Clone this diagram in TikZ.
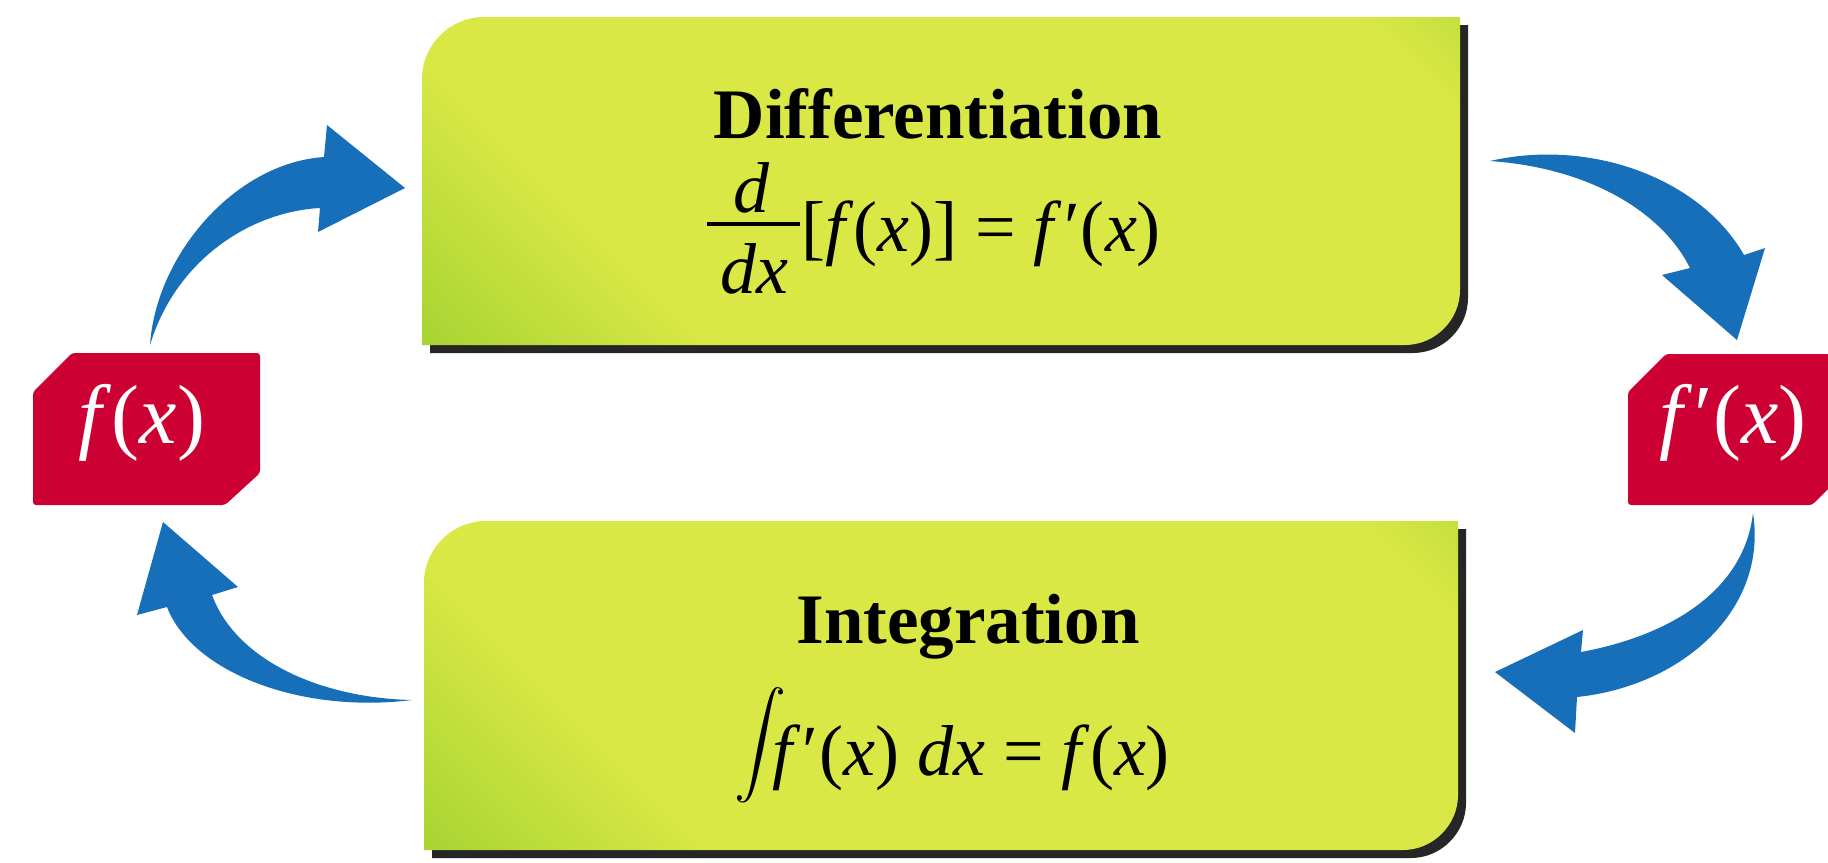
\documentclass[tikz,border=0pt]{standalone}
\usepackage{graphicx}
\usepackage{fontspec}
\setmainfont{Liberation Serif}
\definecolor{gdark}{RGB}{118,190,38}
\definecolor{gmid}{RGB}{172,214,52}
\definecolor{ylw}{RGB}{218,232,70}
\definecolor{tagred}{RGB}{204,0,51}
\definecolor{arrowblue}{RGB}{22,111,184}
\pgfdeclarehorizontalshading{boxshade}{100bp}{color(0bp)=(gdark); color(16bp)=(gmid); color(30bp)=(ylw); color(80bp)=(ylw); color(92bp)=(gmid); color(100bp)=(gdark)}
\newcommand\prm{\kern2pt ′\kern1pt}
\tikzset{
  boxshadow/.style={fill=black!85},
  boxfill/.style={shading=boxshade, shading angle=45},
  tagbox/.style={fill=tagred, rounded corners=3},
  tagtext/.style={text=white, anchor=base, font=\fontsize{84}{90}\selectfont},
  titletext/.style={anchor=base, font=\bfseries\fontsize{71}{80}\selectfont},
  eqtext/.style={anchor=base, font=\fontsize{72}{80}\selectfont, inner sep=0pt},
  fracbar/.style={line width=4pt},
  bluearrow/.style={fill=arrowblue}
}
\begin{document}
\begin{tikzpicture}[x=1pt,y=-1pt]
\useasboundingbox (0,0) rectangle (1828,862);
\fill[white] (0,0) rectangle (1828,862);

% top box
\fill[boxshadow] (430,353) -- (430,87) .. controls (430,53) and (458,25) .. (492,25) -- (1468,25) -- (1468,298) .. controls (1468,328) and (1443,353) .. (1413,353) -- cycle;
\shade[boxfill] (422,345) -- (422,79) .. controls (422,45) and (450,17) .. (484,17) -- (1460,17) -- (1460,290) .. controls (1460,320) and (1435,345) .. (1405,345) -- cycle;

% bottom box
\fill[boxshadow] (432,858) -- (432,591) .. controls (432,557) and (460,529) .. (494,529) -- (1466,529) -- (1466,803) .. controls (1466,833) and (1441,858) .. (1411,858) -- cycle;
\shade[boxfill] (424,850) -- (424,583) .. controls (424,549) and (452,521) .. (486,521) -- (1458,521) -- (1458,795) .. controls (1458,825) and (1433,850) .. (1403,850) -- cycle;

% differentiation
\node[titletext] (difftitle) at (938,138) {Differentiation};
\node[eqtext] (dnum) at (752,212) {\textit{d}};
\node[eqtext] (dden) at (754,293) {\textit{dx}};
\coordinate (barL) at (707,224);
\coordinate (barR) at (800,224);
\draw[fracbar] (barL) -- (barR);
\node[eqtext, anchor=base west] (diffrest) at (801,251) {[\textit{f}(\textit{x})] = \textit{f}\prm(\textit{x})};

% integration
\node[titletext] (inttitle) at (968,643) {Integration};
\node[inner sep=0pt] (intsign) at (760,745) {\fontsize{10}{12}\selectfont\scalebox{5.2}{$\displaystyle\int$}};
\node[eqtext, anchor=base west] (intrest) at (772,775) {\textit{f}\prm(\textit{x}) \textit{dx} = \textit{f}(\textit{x})};

% tags
\fill[tagbox] (33,392) -- (72,353) -- (260,353) -- (260,473) -- (225,505) -- (33,505) -- cycle;
\node[tagtext] (fx) at (142,443) {\textit{f}(\textit{x})};
\fill[tagbox] (1628,392) -- (1666,354) -- (1830,354) -- (1830,487) -- (1812,505) -- (1628,505) -- cycle;
\node[tagtext] (fpx) at (1733,443) {\textit{f}\prm(\textit{x})};

% arrows
\fill[bluearrow] (150,345) .. controls (156,255) and (235,163) .. (324,157)
  -- (327,125) -- (405,188) -- (318,232) -- (320,208)
  .. controls (248,212) and (175,262) .. (150,345) -- cycle;

\fill[bluearrow] (1490,161) .. controls (1590,138) and (1700,178) .. (1744,255)
  -- (1765,248) -- (1737,340) -- (1662,275) -- (1690,268)
  .. controls (1662,212) and (1590,168) .. (1490,161) -- cycle;

\fill[bluearrow] (412,700) .. controls (300,714) and (192,672) .. (167,607)
  -- (137,615) -- (163,522) -- (238,587) -- (212,595)
  .. controls (236,660) and (320,698) .. (412,700) -- cycle;

\fill[bluearrow] (1753,513) .. controls (1768,610) and (1682,686) .. (1577,697)
  -- (1575,733) -- (1495,672) -- (1583,630) -- (1581,652)
  .. controls (1668,636) and (1744,592) .. (1753,513) -- cycle;
\end{tikzpicture}
\end{document}
